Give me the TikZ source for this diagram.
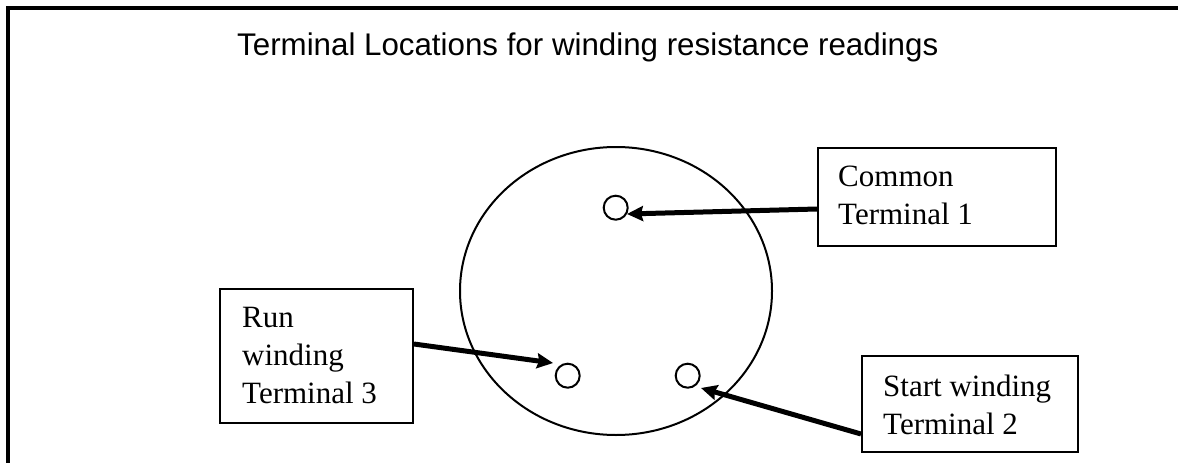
\documentclass[tikz,border=0pt]{standalone}
\usepackage{fontspec}
\setmainfont{Liberation Serif}
\newfontfamily\titlefont{Liberation Sans}
\usetikzlibrary{arrows.meta,shapes.geometric}
\tikzset{
  framestyle/.style={line width=3.5pt},
  labelbox/.style={draw, line width=2pt, rectangle, inner sep=0pt, anchor=north west},
  labeltext/.style={inner sep=0pt, anchor=north west, align=left, font=\fontsize{31}{38}\selectfont},
  terminal/.style={draw, circle, line width=2pt, minimum size=24pt, inner sep=0pt},
  pointer/.style={line width=5pt, -{Stealth[length=16pt,width=15pt,inset=2pt]}},
}
\begin{document}
\begin{tikzpicture}[x=1pt,y=-1pt]
\useasboundingbox (0,0) rectangle (1178,463);
% outer frame (cut by the picture edges)
\draw[framestyle] (8,470) -- (8,8) -- (1185,8);
% title
\node[inner sep=0pt, anchor=base west, font=\titlefont\fontsize{31.3}{38}\selectfont] (title) at (237,55) {Terminal Locations for winding resistance readings};
% disc
\node[draw, ellipse, line width=2pt, minimum width=312pt, minimum height=288pt, inner sep=0pt] (disc) at (616,291) {};
% terminals
\node[terminal] (t1) at (615.7,207.7) {};
\node[terminal] (t3) at (567.7,375.7) {};
\node[terminal] (t2) at (687.7,375.7) {};
% boxes
\node[labelbox, minimum width=238pt, minimum height=98pt] (commonbox) at (817,147) {};
\node[labeltext] (commontext) at (838,166) {Common\\Terminal 1};
\node[labelbox, minimum width=193pt, minimum height=134pt] (runbox) at (219,288) {};
\node[labeltext] (runtext) at (242,307) {Run\\winding\\Terminal 3};
\node[labelbox, minimum width=216pt, minimum height=96pt] (startbox) at (861,355) {};
\node[labeltext] (starttext) at (883,375) {Start winding\\Terminal 2};
% arrows
\draw[pointer] ([yshift=-12pt]commonbox.west) -- ([shift={(11.3,6.3)}]t1.center);
\draw[pointer] ([yshift=12pt]runbox.east) -- ([shift={(-14.7,-12.7)}]t3.center);
\draw[pointer] ([yshift=-30pt]startbox.west) -- ([shift={(13.3,12.3)}]t2.center);
\end{tikzpicture}
\end{document}
